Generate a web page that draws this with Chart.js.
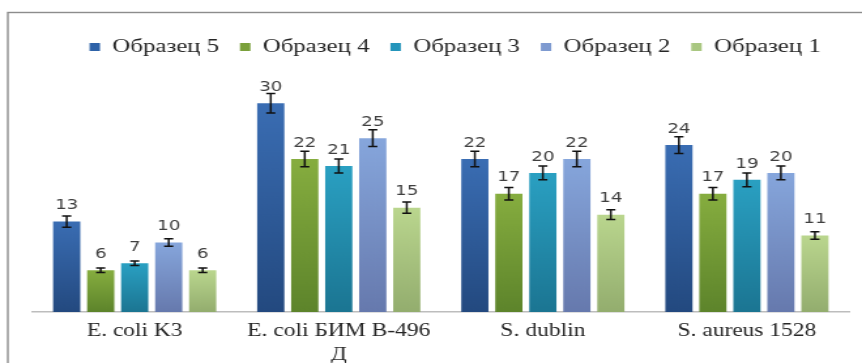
<!DOCTYPE html>
<html lang="ru">
<head>
    <meta charset="UTF-8">
    <title>Образцы</title>
    <script src="https://cdn.jsdelivr.net/npm/chart.js"></script>
    <style>
        body {
            margin: 0;
            padding: 0;
            background: #fff;
        }

        #chart {
            display: block;
        }
    </style>
</head>
<body>
    <!-- the source picture is stretched sideways, so the canvas is too -->
    <canvas id="chart" width="660" height="363" style="width:862px;height:363px;"></canvas>

    <script>
        const categories = ['E. coli K3', ['E. coli БИМ В-496', 'Д'], 'S. dublin', 'S. aureus 1528'];
        const seriesNames = ['Образец 5', 'Образец 4', 'Образец 3', 'Образец 2', 'Образец 1'];

        const sample5 = [13, 30, 22, 24];
        const sample4 = [6, 22, 17, 17];
        const sample3 = [7, 21, 20, 19];
        const sample2 = [10, 25, 22, 20];
        const sample1 = [6, 15, 14, 11];

        // error bar half-heights
        const err5 = [0.8, 1.4, 1.1, 1.2];
        const err4 = [0.33, 1.1, 0.9, 0.9];
        const err3 = [0.33, 1.0, 1.0, 1.0];
        const err2 = [0.53, 1.2, 1.1, 1.0];
        const err1 = [0.33, 0.8, 0.7, 0.55];

        const values = [sample5, sample4, sample3, sample2, sample1];
        const errors = [err5, err4, err3, err2, err1];

        // [legend colour, bar top, bar bottom]
        const colours = [
            ['#2e62a8', '#3a6db3', '#23497f'],
            ['#7aa03b', '#86ad3f', '#5d842b'],
            ['#2495bb', '#2aa0c2', '#1b7592'],
            ['#7e9ad0', '#86a6dc', '#6679ad'],
            ['#a9c781', '#bad68e', '#93ad6e']
        ];

        function barGradient(i) {
            return function(context) {
                const chart = context.chart;
                if (!chart.chartArea || context.type !== 'data') return colours[i][0];
                const yScale = chart.scales.y;
                const top = yScale.getPixelForValue(context.parsed.y);
                const bottom = yScale.getPixelForValue(0);
                const g = chart.ctx.createLinearGradient(0, top, 0, bottom);
                g.addColorStop(0, colours[i][1]);
                g.addColorStop(1, colours[i][2]);
                return g;
            };
        }

        // outer frame, only left and top sides show in the picture
        const framePlugin = {
            id: 'frame',
            afterLayout(chart) {
                // legend sits a little right of centre in the original
                if (chart.legend) {
                    chart.legend.left += 11;
                    chart.legend.right += 11;
                }
            },
            beforeDraw(chart) {
                const ctx = chart.ctx;
                ctx.save();
                ctx.strokeStyle = '#8c8c8c';
                ctx.lineWidth = 1.4;
                ctx.strokeRect(6, 12.5, 1000, 1000);
                ctx.restore();
            }
        };

        // whiskers and value labels
        const errorBarPlugin = {
            id: 'errorBars',
            afterDatasetsDraw(chart) {
                const ctx = chart.ctx;
                const yScale = chart.scales.y;
                ctx.save();
                chart.data.datasets.forEach((ds, i) => {
                    const meta = chart.getDatasetMeta(i);
                    meta.data.forEach((bar, j) => {
                        const v = ds.data[j];
                        const e = errors[i][j];
                        const yTop = yScale.getPixelForValue(v + e);
                        const yBot = yScale.getPixelForValue(v - e);
                        ctx.strokeStyle = '#111';
                        ctx.lineWidth = 1.5;
                        ctx.beginPath();
                        ctx.moveTo(bar.x, yTop);
                        ctx.lineTo(bar.x, yBot);
                        ctx.moveTo(bar.x - 3.5, yTop);
                        ctx.lineTo(bar.x + 3.5, yTop);
                        ctx.moveTo(bar.x - 3.5, yBot);
                        ctx.lineTo(bar.x + 3.5, yBot);
                        ctx.stroke();
                    });
                });
                ctx.fillStyle = '#404040';
                ctx.font = '14px "DejaVu Sans", sans-serif';
                ctx.textAlign = 'center';
                ctx.textBaseline = 'middle';
                chart.data.datasets.forEach((ds, i) => {
                    chart.getDatasetMeta(i).data.forEach((bar, j) => {
                        ctx.fillText(String(ds.data[j]), bar.x, bar.y - 16);
                    });
                });
                ctx.restore();
            }
        };

        const ctx = document.getElementById('chart').getContext('2d');
        new Chart(ctx, {
            type: 'bar',
            data: {
                labels: categories,
                datasets: seriesNames.map((name, i) => ({
                    label: name,
                    data: values[i],
                    backgroundColor: barGradient(i),
                    borderWidth: 0,
                    categoryPercentage: 0.833,
                    barPercentage: 0.8
                }))
            },
            options: {
                responsive: false,
                animation: false,
                layout: {
                    padding: { top: 21.5, left: 25, right: 10, bottom: 0 }
                },
                plugins: {
                    legend: {
                        position: 'top',
                        labels: {
                            boxWidth: 8,
                            boxHeight: 8,
                            padding: 16,
                            color: '#262626',
                            font: { family: '"Liberation Serif", serif', size: 19 },
                            generateLabels(chart) {
                                return chart.data.datasets.map((ds, i) => ({
                                    text: ds.label,
                                    fillStyle: colours[i][0],
                                    strokeStyle: colours[i][0],
                                    lineWidth: 0,
                                    fontColor: '#262626',
                                    datasetIndex: i
                                }));
                            }
                        }
                    },
                    tooltip: { enabled: false }
                },
                scales: {
                    x: {
                        grid: { display: false, drawTicks: false },
                        border: { display: true, color: '#bdbdbd', width: 1.5 },
                        ticks: {
                            color: '#262626',
                            padding: 7,
                            maxRotation: 0,
                            autoSkip: false,
                            font: { family: '"Liberation Serif", serif', size: 18, lineHeight: 1.35 }
                        },
                        afterFit(scale) {
                            scale.height = 51;
                        }
                    },
                    y: {
                        display: false,
                        min: 0,
                        max: 35.3
                    }
                }
            },
            plugins: [framePlugin, errorBarPlugin]
        });
    </script>
</body>
</html>
